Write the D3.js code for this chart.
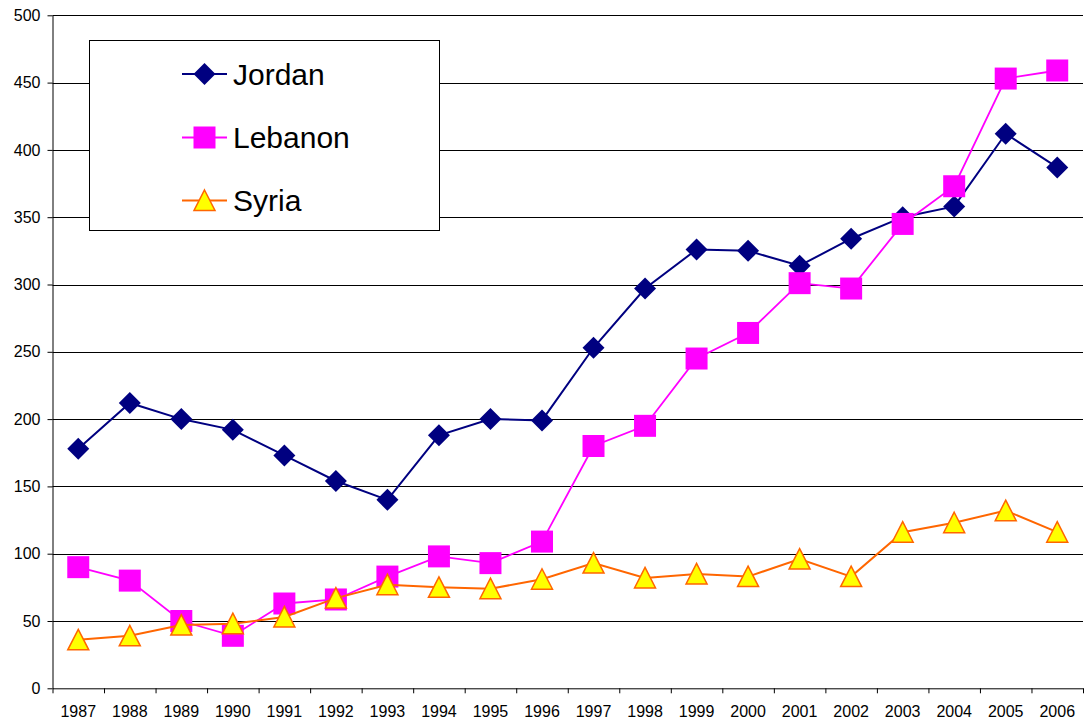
<!DOCTYPE html>
<html>
<head>
<meta charset="utf-8">
<script src="https://cdn.jsdelivr.net/npm/d3@7"></script>
<style>
  html, body { margin: 0; padding: 0; background: #fff; }
  svg { display: block; font-family: "Liberation Sans", Arial, sans-serif; }
</style>
</head>
<body>
<svg id="chart" width="1087" height="725"></svg>
<script>
const years = ["1987","1988","1989","1990","1991","1992","1993","1994","1995","1996",
               "1997","1998","1999","2000","2001","2002","2003","2004","2005","2006"];
const jordan  = [178, 212, 200, 192, 173, 154, 140, 188, 200, 199, 253, 297, 326, 325, 314, 334, 350, 358, 412, 387];
const lebanon = [90, 80, 50, 39, 63, 66, 83, 98, 93, 109, 180, 195, 245, 264, 301, 297, 345, 373, 453, 459];
const syria   = [36, 39, 47, 48, 53, 67, 77, 75, 74, 81, 93, 82, 85, 83, 96, 83, 116, 123, 132, 116];
const yTicks  = [0, 50, 100, 150, 200, 250, 300, 350, 400, 450, 500];
const seriesNames = ["Jordan", "Lebanon", "Syria"];

const svg = d3.select("#chart");
const pLeft = 52.5, pRight = 1083, pTop = 15.3, pBottom = 688.3;

const x = d3.scaleBand().domain(years).range([pLeft, pRight]).padding(0);
const xb = d3.scaleLinear().domain([0, years.length]).range([pLeft, pRight]);
const y = d3.scaleLinear().domain([0, 500]).range([pBottom, pTop]);

// gridlines
svg.append("g")
  .selectAll("line").data(yTicks.filter(d => d > 0)).join("line")
  .attr("x1", pLeft).attr("x2", pRight)
  .attr("y1", d => Math.round(y(d)) + 0.5).attr("y2", d => Math.round(y(d)) + 0.5)
  .attr("stroke", "#000").attr("stroke-width", 1);

// y axis
const yAxis = svg.append("g")
  .attr("transform", `translate(${pLeft},0)`)
  .call(d3.axisLeft(y).tickValues(yTicks).tickSize(5).tickPadding(7).tickSizeOuter(0));
yAxis.selectAll("text").attr("font-size", 16).attr("fill", "#000")
  .attr("font-family", '"Liberation Sans", Arial, sans-serif');
yAxis.selectAll("line").attr("stroke", "#000");
yAxis.select(".domain").attr("stroke", "#000");

// x axis: tick marks at category boundaries
const xTickAxis = svg.append("g")
  .attr("transform", `translate(0,${pBottom})`)
  .call(d3.axisBottom(xb).tickValues(d3.range(0, years.length + 1)).tickSize(5).tickSizeOuter(0).tickFormat(""));
xTickAxis.selectAll("line").attr("stroke", "#000");
xTickAxis.select(".domain").attr("stroke", "#000");

// x axis labels
const xLab = svg.append("g")
  .attr("transform", `translate(0,${pBottom})`)
  .call(d3.axisBottom(x).tickSize(0).tickPadding(17));
xLab.select(".domain").remove();
xLab.selectAll("text").attr("font-size", 16).attr("fill", "#000")
  .attr("font-family", '"Liberation Sans", Arial, sans-serif');

const cx = d => x(d) + x.bandwidth() / 2;

const diamond = "M0,-11L11,0L0,11L-11,0Z";
const square = "M-11,-11H11V11H-11Z";
const tri = "M0,-10.5L10.5,10L-10.5,10Z";

const series = [
  { name: seriesNames[0], values: jordan, line: "#000080", fill: "#000080", stroke: "none", sw: 0, path: diamond, lw: 2 },
  { name: seriesNames[1], values: lebanon, line: "#FF00FF", fill: "#FF00FF", stroke: "none", sw: 0, path: square, lw: 1.8 },
  { name: seriesNames[2], values: syria, line: "#FF6600", fill: "#FFFF00", stroke: "#FF6600", sw: 1.5, path: tri, lw: 2 }
];

const lineGen = d3.line().x((d, i) => cx(years[i])).y(d => y(d));

series.forEach(s => {
  svg.append("path").datum(s.values)
    .attr("d", lineGen).attr("fill", "none")
    .attr("stroke", s.line).attr("stroke-width", s.lw);
  svg.append("g").selectAll("path").data(s.values).join("path")
    .attr("d", s.path)
    .attr("transform", (d, i) => `translate(${cx(years[i])},${y(d)})`)
    .attr("fill", s.fill).attr("stroke", s.stroke).attr("stroke-width", s.sw);
});

// legend
const lg = svg.append("g");
lg.append("rect").attr("x", 89.5).attr("y", 40.5).attr("width", 350).attr("height", 190)
  .attr("fill", "#fff").attr("stroke", "#000").attr("stroke-width", 1);
const rowY = [74, 137.5, 200.5];
series.forEach((s, i) => {
  const g = lg.append("g").attr("transform", `translate(0,${rowY[i]})`);
  g.append("line").attr("x1", 182).attr("x2", 227).attr("y1", 0).attr("y2", 0)
    .attr("stroke", s.line).attr("stroke-width", s.lw);
  g.append("path").attr("d", s.path).attr("transform", "translate(204.5,0)")
    .attr("fill", s.fill).attr("stroke", s.stroke).attr("stroke-width", s.sw);
  g.append("text").attr("x", 233).attr("y", 10.5)
    .attr("font-size", 30).attr("fill", "#000").text(s.name);
});
</script>
</body>
</html>
